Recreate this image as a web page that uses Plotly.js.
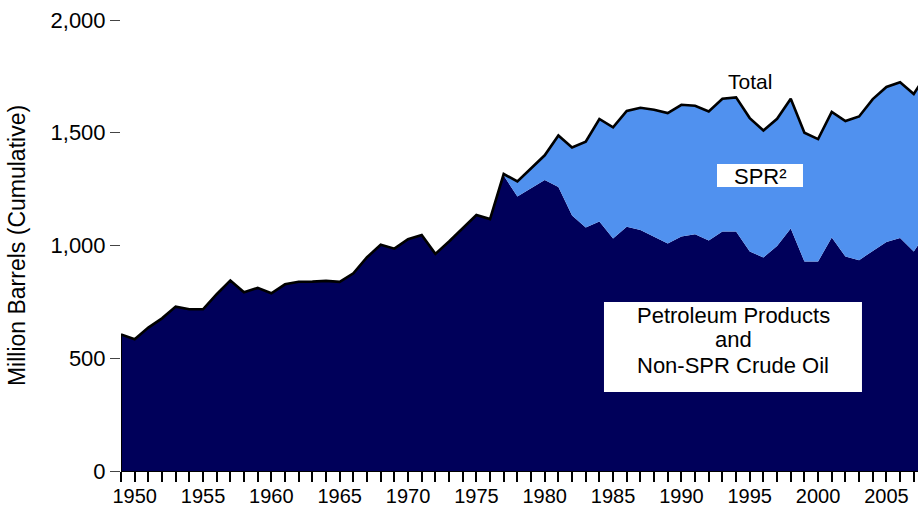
<!DOCTYPE html>
<html>
<head>
<meta charset="utf-8">
<script src="https://cdn.plot.ly/plotly-3.0.1.min.js"></script>
<style>html,body{margin:0;padding:0;background:#fff;}#chart{width:918px;height:509px;}</style>
</head>
<body>
<div id="chart"></div>
<script>
// Years
const years = [];
for (let y = 1949; y <= 2008; y++) years.push(y);

// Petroleum Products and Non-SPR Crude Oil (million barrels)
const nonSPR = [606,584,636,677,729,717,717,784,845,793,
                812,788,828,839,840,843,839,877,948,1003,
                986,1028,1047,963,1018,1077,1135,1117,1310,1217,
                1254,1290,1259,1133,1080,1106,1031,1083,1069,1040,
                1009,1040,1050,1022,1062,1062,973,947,998,1075,
                929,929,1035,951,935,976,1016,1033,973,1064];

// Strategic Petroleum Reserve (million barrels)
const spr = [0,0,0,0,0,0,0,0,0,0,
             0,0,0,0,0,0,0,0,0,0,
             0,0,0,0,0,0,0,0,7,67,
             89,110,229,302,380,455,493,514,542,562,
             578,584,570,572,589,595,592,563,564,576,
             571,543,557,601,637,673,687,691,699,702];

// Tick labels
const tickYears = years;
const tickLabels = years.map(y => (y % 5 === 0 ? String(y) : ""));
const yTicks = [0, 500, 1000, 1500, 2000];

// Label texts
const labelTotal = "Total";
const labelSPR = "SPR²";
const labelOther = ["Petroleum Products", "and", "Non-SPR Crude Oil"];

const FONT = "Liberation Sans, Arial, sans-serif";

const traces = [
  {
    x: years, y: nonSPR, type: "scatter", mode: "lines",
    stackgroup: "one", fillcolor: "#00005A",
    line: {width: 0, color: "#00005A"}, hoverinfo: "skip", showlegend: false
  },
  {
    x: years, y: spr, type: "scatter", mode: "lines",
    stackgroup: "one", fillcolor: "#5091EF",
    line: {width: 2.6, color: "#000000"}, hoverinfo: "skip", showlegend: false
  },
  {
    x: [years[0], years[0]], y: [0, nonSPR[0] + spr[0]], type: "scatter", mode: "lines",
    line: {width: 2, color: "#000000"}, hoverinfo: "skip", showlegend: false
  }
];

const otherY = [0.3437, 0.2905, 0.2350];

const layout = {
  width: 918, height: 509,
  margin: {l: 121, r: 0, t: 20, b: 38},
  paper_bgcolor: "#ffffff", plot_bgcolor: "#ffffff",
  font: {family: FONT, size: 20, color: "#000000"},
  showlegend: false,
  xaxis: {
    range: [1949, 2007.31],
    tickmode: "array", tickvals: tickYears, ticktext: tickLabels,
    ticks: "outside", ticklen: 10, tickwidth: 2, tickcolor: "#000000",
    ticklabelstandoff: -3,
    showgrid: false, zeroline: false,
    showline: true, linecolor: "#000000", linewidth: 1,
    tickfont: {family: FONT, size: 20, color: "#000000"}
  },
  yaxis: {
    range: [0, 2000],
    tickmode: "array", tickvals: yTicks, tickformat: ",d",
    ticks: "outside", ticklen: 10, tickwidth: 1, tickcolor: "#444444",
    showgrid: false, zeroline: false, showline: false,
    tickfont: {family: FONT, size: 22, color: "#000000"},
    title: {text: "Million Barrels (Cumulative)", font: {family: FONT, size: 23, color: "#000000"}, standoff: 18}
  },
  shapes: [
    {type: "rect", xref: "paper", yref: "paper", x0: 0.7478, x1: 0.8557, y0: 0.6297, y1: 0.6807,
     fillcolor: "#ffffff", line: {width: 0}, layer: "above"},
    {type: "rect", xref: "paper", yref: "paper", x0: 0.606, x1: 0.9297, y0: 0.1752, y1: 0.3747,
     fillcolor: "#ffffff", line: {width: 0}, layer: "above"}
  ],
  annotations: [
    {xref: "paper", yref: "paper", x: 0.7886, y: 0.863, text: labelTotal, showarrow: false,
     font: {family: FONT, size: 21, color: "#000000"}, xanchor: "center", yanchor: "middle"},
    {xref: "paper", yref: "paper", x: 0.8018, y: 0.654, text: labelSPR, showarrow: false,
     font: {family: FONT, size: 22, color: "#000000"}, xanchor: "center", yanchor: "middle"}
  ].concat(labelOther.map((t, i) => ({
     xref: "paper", yref: "paper", x: 0.768, y: otherY[i], text: t, showarrow: false,
     font: {family: FONT, size: 22, color: "#000000"}, xanchor: "center", yanchor: "middle"
  })))
};

Plotly.newPlot("chart", traces, layout, {displayModeBar: false, staticPlot: true});
</script>
</body>
</html>
